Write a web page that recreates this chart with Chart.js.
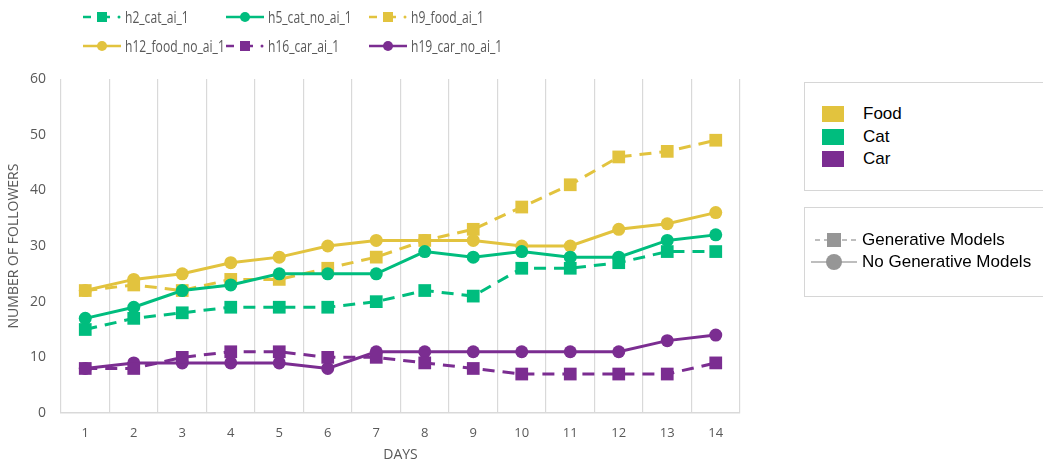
<!DOCTYPE html>
<html>
<head>
<meta charset="utf-8">
<script src="https://cdn.jsdelivr.net/npm/chart.js@4"></script>
<style>
  html, body { margin: 0; padding: 0; background: #fff; }
  #wrap { position: relative; width: 1043px; height: 468px; overflow: hidden; }
  #chart { position: absolute; left: 0; top: 0; }
  .top-legend { position: absolute; left: 0; top: 0; font-family: 'Open Sans', sans-serif; font-size: 15.5px; color: #595959; }
  .top-legend .item { position: absolute; display: flex; align-items: center; white-space: nowrap; }
  .top-legend canvas { margin-right: 3px; }
  .top-legend span { display: inline-block; transform: scaleX(0.78); transform-origin: left center; }
  .box { position: absolute; left: 804px; width: 260px; border: 1.5px solid #d6d6d6; background: #fff;
         font-family: 'Liberation Sans', Arial, sans-serif; color: #000; }
  .row { position: absolute; display: flex; align-items: center; white-space: nowrap; }
  .sw { width: 22px; height: 16px; margin-right: 19px; }
</style>
</head>
<body>
<div id="wrap">
  <canvas id="chart" width="1043" height="468"></canvas>
  <div class="top-legend" id="topLegend"></div>
  <div class="box" id="catBox" style="top:82px;height:107px;"></div>
  <div class="box" id="modelBox" style="top:207px;height:88px;"></div>
</div>
<script>
const days = ['1', '2', '3', '4', '5', '6', '7', '8', '9', '10', '11', '12', '13', '14'];

const catAi     = [15, 17, 18, 19, 19, 19, 20, 22, 21, 26, 26, 27, 29, 29];
const catNoAi   = [17, 19, 22, 23, 25, 25, 25, 29, 28, 29, 28, 28, 31, 32];
const foodAi    = [22, 23, 22, 24, 24, 26, 28, 31, 33, 37, 41, 46, 47, 49];
const foodNoAi  = [22, 24, 25, 27, 28, 30, 31, 31, 31, 30, 30, 33, 34, 36];
const carAi     = [8, 8, 10, 11, 11, 10, 10, 9, 8, 7, 7, 7, 7, 9];
const carNoAi   = [8, 9, 9, 9, 9, 8, 11, 11, 11, 11, 11, 11, 13, 14];

const yTicks = [0, 10, 20, 30, 40, 50, 60];

const GREEN = '#00bd7e';
const YELLOW = '#e2c33e';
const PURPLE = '#7b2d91';

const categories = [
  { name: 'Food', color: YELLOW },
  { name: 'Cat', color: GREEN },
  { name: 'Car', color: PURPLE }
];

const series = [
  { label: 'h2_cat_ai_1',      data: catAi,    color: GREEN,  gen: true },
  { label: 'h5_cat_no_ai_1',   data: catNoAi,  color: GREEN,  gen: false },
  { label: 'h9_food_ai_1',     data: foodAi,   color: YELLOW, gen: true },
  { label: 'h12_food_no_ai_1', data: foodNoAi, color: YELLOW, gen: false },
  { label: 'h16_car_ai_1',     data: carAi,    color: PURPLE, gen: true },
  { label: 'h19_car_no_ai_1',  data: carNoAi,  color: PURPLE, gen: false }
];

const datasets = series.map(s => ({
  label: s.label,
  data: s.data,
  borderColor: s.color,
  backgroundColor: s.color,
  borderWidth: 3,
  borderDash: s.gen ? [12, 8] : [],
  pointStyle: s.gen ? 'rect' : 'circle',
  pointRadius: s.gen ? 9 : 6.5,
  pointBorderWidth: 0,
  tension: 0
}));

const tickFont = { family: "'Open Sans', sans-serif", size: 13 };
const titleFont = { family: "'Open Sans', sans-serif", size: 14 };

const chart = new Chart(document.getElementById('chart'), {
  type: 'line',
  data: { labels: days, datasets: datasets },
  options: {
    responsive: false,
    animation: false,
    layout: { padding: { top: 79, right: 303, left: 0, bottom: 0 } },
    plugins: { legend: { display: false }, tooltip: { enabled: false } },
    scales: {
      x: {
        offset: true,
        afterFit: axis => { axis.height = 55; },
        grid: { display: true, offset: true, color: '#d9d9d9', lineWidth: 1.2, drawTicks: false },
        border: { color: '#d9d9d9', width: 1.5 },
        ticks: { color: '#595959', font: tickFont, padding: 12 },
        title: { display: true, text: 'DAYS', color: '#595959', font: titleFont, padding: { top: 0, bottom: 5 } }
      },
      y: {
        min: 0, max: 60,
        afterFit: axis => { axis.width = 61; },
        afterBuildTicks: axis => { axis.ticks = yTicks.map(v => ({ value: v })); },
        grid: { display: false, drawTicks: false },
        border: { display: false },
        ticks: { color: '#595959', font: { family: "'Open Sans', sans-serif", size: 14 }, padding: 15 },
        title: { display: true, text: 'NUMBER OF FOLLOWERS', color: '#595959', font: titleFont, padding: { top: 6, bottom: 0 } }
      }
    }
  }
});

// little line + marker sample used by the series legend
function swatch(color, gen, w, h) {
  const c = document.createElement('canvas');
  c.width = w; c.height = h;
  const g = c.getContext('2d');
  const cy = h / 2, cx = w / 2;
  g.strokeStyle = color; g.fillStyle = color; g.lineWidth = 2.5;
  if (gen) {
    g.beginPath(); g.moveTo(1, cy); g.lineTo(9, cy); g.stroke();
    g.fillRect(cx - 5, cy - 5, 10, 10);
    g.beginPath(); g.moveTo(cx + 5, cy); g.lineTo(cx + 8, cy); g.stroke();
    g.beginPath(); g.arc(w - 3, cy, 1.5, 0, Math.PI * 2); g.fill();
  } else {
    g.beginPath(); g.moveTo(1, cy); g.lineTo(w - 1, cy); g.stroke();
    g.beginPath(); g.arc(cx, cy, 5, 0, Math.PI * 2); g.fill();
  }
  return c;
}

// series legend: three columns, two rows
const legendEl = document.getElementById('topLegend');
series.forEach((s, i) => {
  const item = document.createElement('div');
  item.className = 'item';
  item.style.left = (82 + (i % 3) * 143) + 'px';
  item.style.top = (6 + Math.floor(i / 3) * 29) + 'px';
  item.appendChild(swatch(s.color, s.gen, 40, 14));
  const t = document.createElement('span');
  t.textContent = s.label;
  item.appendChild(t);
  legendEl.appendChild(item);
});

// category colour key
const catBox = document.getElementById('catBox');
categories.forEach((c, i) => {
  const r = document.createElement('div');
  r.className = 'row';
  r.style.left = '17px';
  r.style.top = (21 + i * 22.5) + 'px';
  r.style.fontSize = '17px';
  const sw = document.createElement('div');
  sw.className = 'sw';
  sw.style.background = c.color;
  r.appendChild(sw);
  const t = document.createElement('span');
  t.textContent = c.name;
  r.appendChild(t);
  catBox.appendChild(r);
});

// line style key
const modelBox = document.getElementById('modelBox');
[{ name: 'Generative Models', gen: true }, { name: 'No Generative Models', gen: false }].forEach((m, i) => {
  const r = document.createElement('div');
  r.className = 'row';
  r.style.left = '5px';
  r.style.top = (22 + i * 22) + 'px';
  r.style.fontSize = '17px';
  const c = document.createElement('canvas');
  c.width = 48; c.height = 20;
  const g = c.getContext('2d');
  g.strokeStyle = '#7f7f7f'; g.fillStyle = '#969696'; g.lineWidth = 1.2;
  if (m.gen) {
    g.setLineDash([5, 4]);
    g.beginPath(); g.moveTo(5, 10); g.lineTo(47, 10); g.stroke();
    g.fillRect(17, 3, 14, 14);
  } else {
    g.beginPath(); g.moveTo(1, 10); g.lineTo(47, 10); g.stroke();
    g.beginPath(); g.arc(24, 10, 8, 0, Math.PI * 2); g.fill();
  }
  c.style.marginRight = '4px';
  r.appendChild(c);
  const t = document.createElement('span');
  t.textContent = m.name;
  r.appendChild(t);
  modelBox.appendChild(r);
});
</script>
</body>
</html>
